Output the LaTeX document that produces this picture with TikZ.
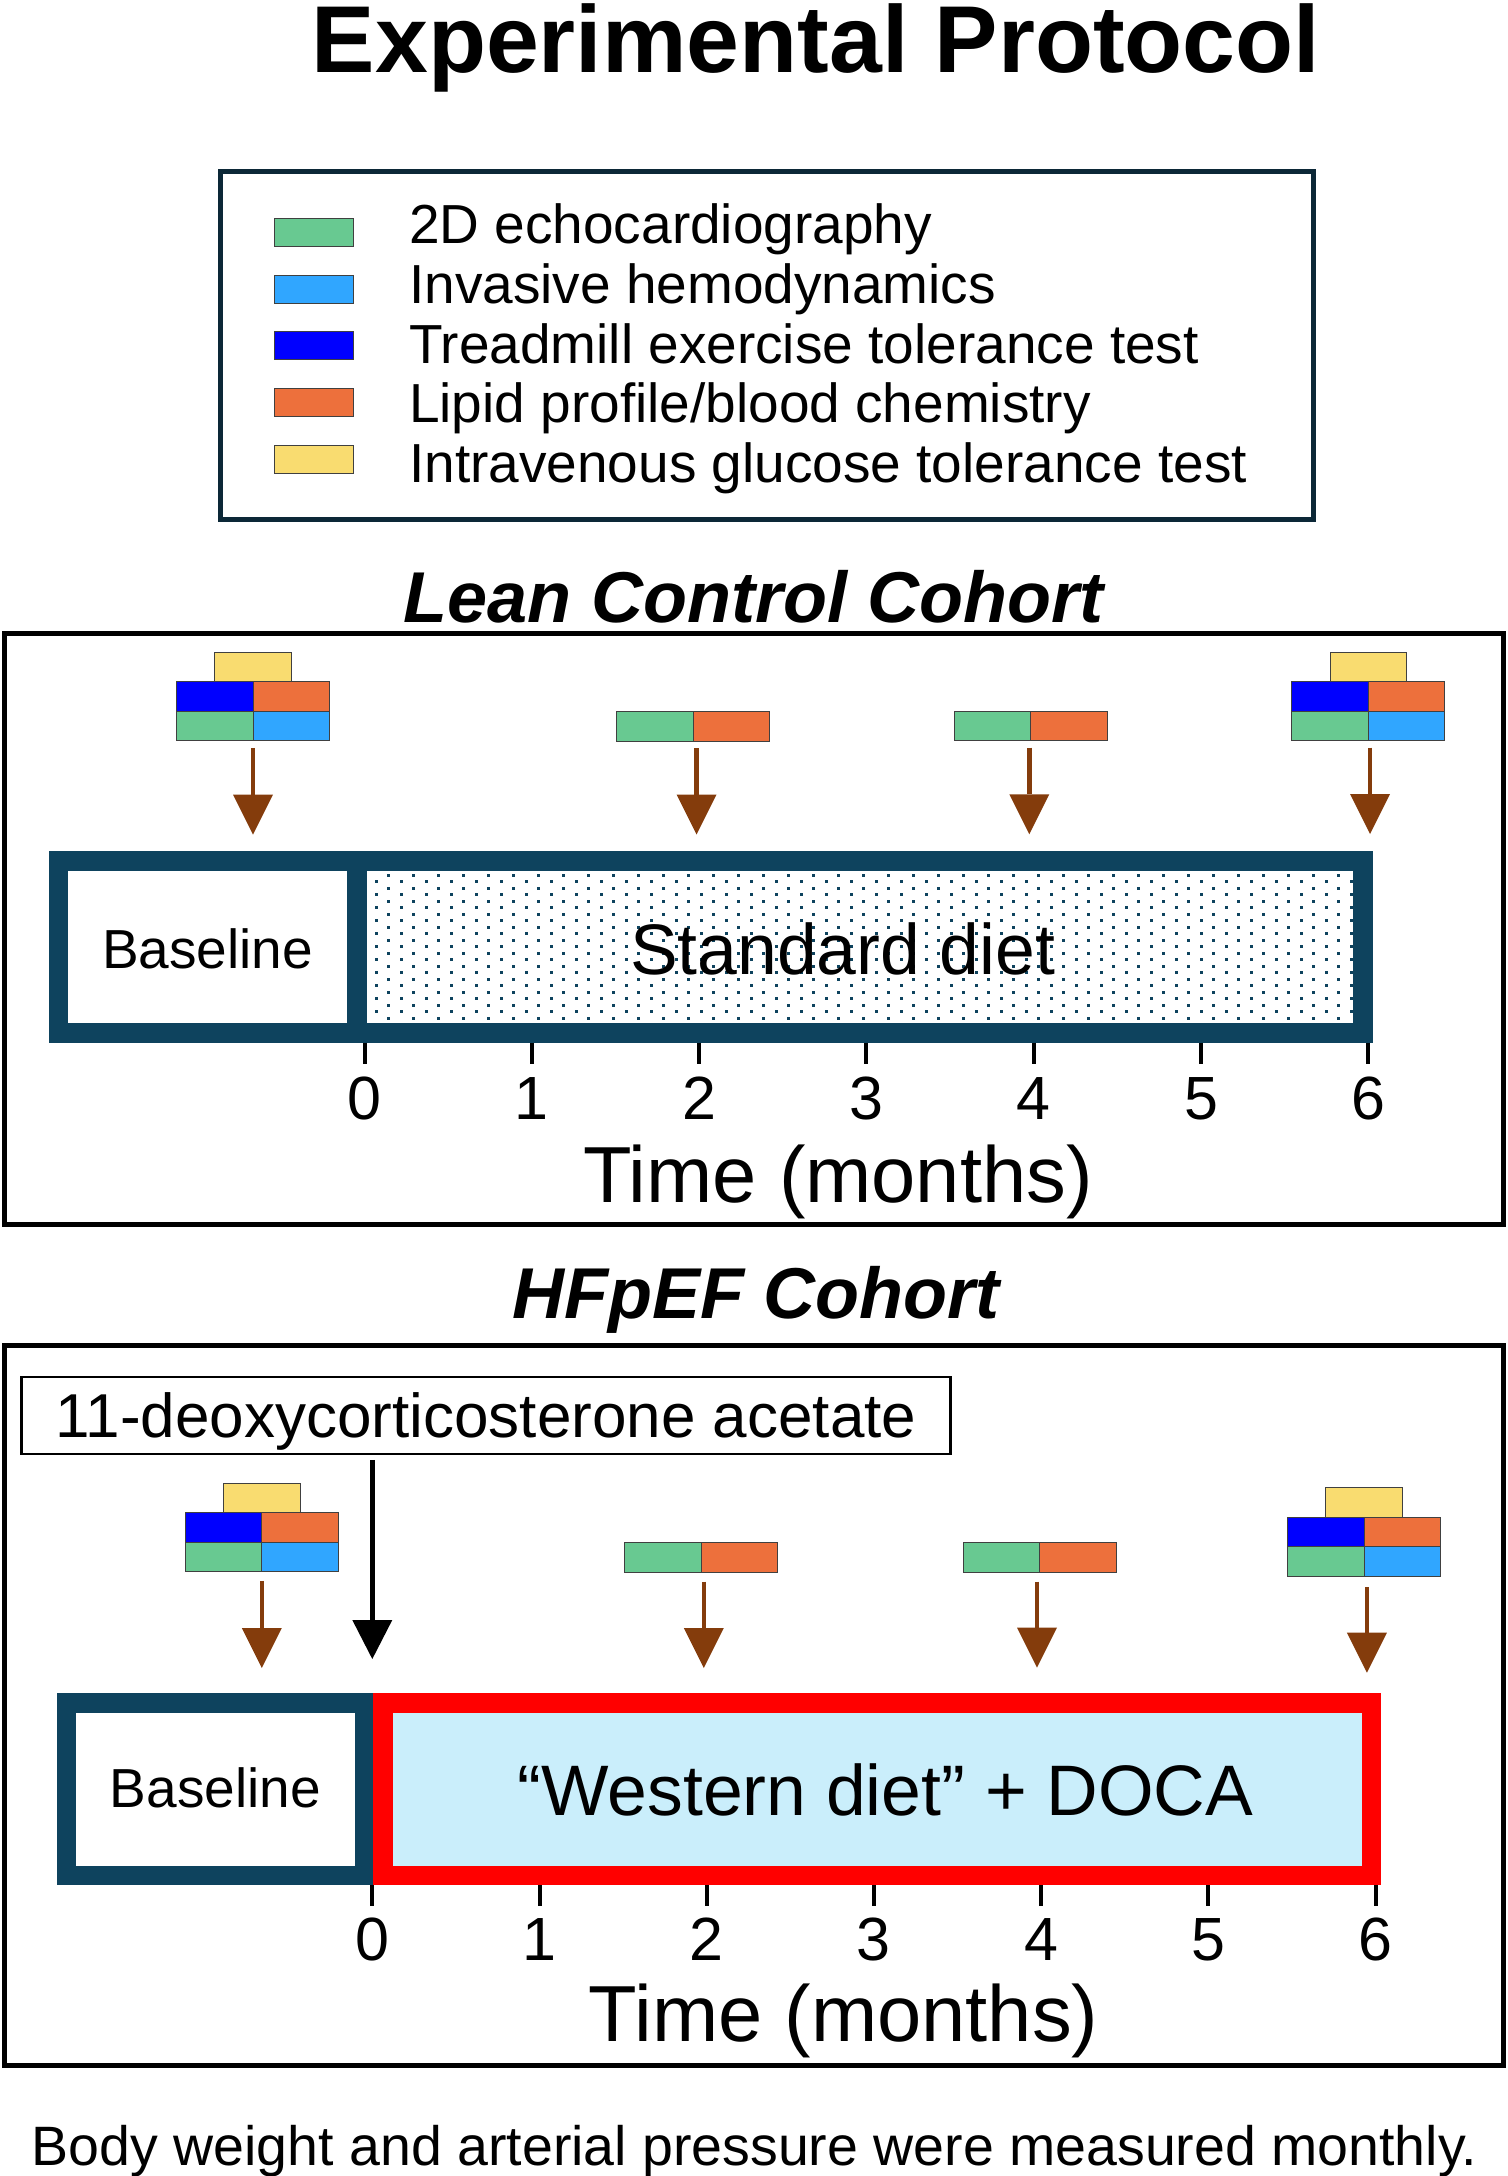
\documentclass[tikz,border=0pt]{standalone}
\usepackage{fontspec}
\setmainfont{Liberation Sans}
\usetikzlibrary{arrows.meta,positioning,patterns}

\definecolor{echoGreen}{HTML}{68C991}
\definecolor{hemoBlue}{HTML}{30A6FF}
\definecolor{treadBlue}{HTML}{0000FF}
\definecolor{lipidOrange}{HTML}{ED703C}
\definecolor{glucYellow}{HTML}{F9DC70}
\definecolor{frameTeal}{HTML}{0E435E}
\definecolor{legendNavy}{HTML}{0C2837}
\definecolor{doseBrown}{HTML}{843C0C}
\definecolor{dietBlue}{HTML}{CAEEFB}

\pgfdeclarepatternformonly{dietdots}{\pgfpointorigin}{\pgfpoint{25pt}{12.5pt}}{\pgfpoint{25pt}{12.5pt}}{%
  \pgfpathrectangle{\pgfpointorigin}{\pgfpoint{3pt}{3pt}}%
  \pgfpathrectangle{\pgfpoint{12.5pt}{6.25pt}}{\pgfpoint{3pt}{3pt}}%
  \pgfusepath{fill}}

\tikzset{
  swatch/.style={draw=black!75, line width=1pt, minimum width=76.5, minimum height=29.5, inner sep=0pt, outer sep=0pt},
  keybox/.style={swatch, minimum width=79, minimum height=28, anchor=north west},
  txt/.style={inner sep=0pt, anchor=base},
  keytext/.style={txt, anchor=base west, font=\fontsize{55}{60}\selectfont},
  cohort/.style={txt, font=\fontsize{72}{76}\selectfont\bfseries\itshape},
  phase/.style={txt, font=\fontsize{55}{60}\selectfont},
  diet/.style={txt, font=\fontsize{71.5}{76}\selectfont},
  ticklabel/.style={txt, font=\fontsize{61}{66}\selectfont},
  axislabel/.style={txt, font=\fontsize{79.5}{84}\selectfont},
  tickmark/.style={line width=4pt},
  dose/.style={draw=doseBrown, line width=4.5pt, -{Triangle[width=40pt,length=40pt,line width=0pt]}},
}

\begin{document}
\begin{tikzpicture}[x=1pt,y=-1pt]
  \useasboundingbox (0,0) rectangle (1507,2176);

  \node[txt, font=\fontsize{95}{100}\selectfont\bfseries] (title) at (816,72) {Experimental Protocol};

  % legend
  \draw[legendNavy, line width=4.5pt] (220.5,171.7) rectangle (1313.7,519.3);
  \foreach \col/\lab [count=\i from 0] in {echoGreen/2D echocardiography, hemoBlue/Invasive hemodynamics,
      treadBlue/Treadmill exercise tolerance test, lipidOrange/Lipid profile\slash blood chemistry,
      glucYellow/Intravenous glucose tolerance test} {
    \node[keybox, fill=\col] (key\i) at (274.8,218.3+56.8*\i) {};
    \node[keytext] (keytxt\i) at (409,243.3+59.85*\i) {\lab};
  }

  % lean cohort
  \node[cohort] (leanttl) at (753.5,622) {Lean Control Cohort};
  \draw[line width=5pt] (4.4,633) rectangle (1503,1224.5);
  \fill[frameTeal] (48.5,851) rectangle (1373.3,1042.5);
  \fill[white] (67.9,870.7) rectangle (346.6,1022.7);
  \fill[white] (367,870.7) rectangle (1353.3,1022.7);
  \fill[pattern=dietdots, pattern color=frameTeal] (367,870.7) rectangle (1353.3,1022.7);
  \node[phase] (lbase) at (207.7,968.6) {Baseline};
  \node[diet] (ldiet) at (842.7,974.3) {Standard diet};
  \foreach \t in {0,...,6} {
    \pgfmathsetmacro\tx{364.5+167.3*\t}
    \draw[tickmark] (\tx,1042.5) -- (\tx,1064);
    \node[ticklabel] (ltick\t) at (\tx,1119) {\t};
  }
  \node[axislabel] (ltime) at (838,1202) {Time (months)};

  % hfpef cohort
  \node[cohort] (hfttl) at (756,1318) {HFpEF Cohort};
  \draw[line width=5pt] (4.4,1345.3) rectangle (1503,2065.5);
  \node[draw, line width=2.5pt, minimum width=929, minimum height=77, inner sep=0pt,
    text height=44.6, text depth=0pt, font=\fontsize{62}{66}\selectfont] (doca) at (486.2,1415.4)
    {11-deoxycorticosterone acetate};
  \coordinate (docatip) at (372.3,1659);
  \draw[line width=4.5pt, -{Triangle[width=40pt,length=39pt,line width=0pt]}, shorten <=4.6]
    (docatip |- doca.south) -- (docatip);
  \fill[frameTeal] (56.7,1693) rectangle (373.2,1885);
  \fill[red] (373.2,1693) rectangle (1381.4,1885);
  \fill[white] (76.1,1713) rectangle (355.3,1866);
  \fill[dietBlue] (392.6,1713) rectangle (1362,1866);
  \node[phase] (hbase) at (215.3,1807.6) {Baseline};
  \node[diet] (hdiet) at (885.5,1815) {“Western diet” + DOCA};
  \foreach \t in {0,...,6} {
    \pgfmathsetmacro\tx{372.3+167.2*\t}
    \draw[tickmark] (\tx,1885) -- (\tx,1906);
    \node[ticklabel] (htick\t) at (\tx,1960) {\t};
  }
  \node[axislabel] (htime) at (843.7,2041.7) {Time (months)};

  % test sets
  \foreach \nm/\cx/\cy in {l0/253/740.8, l6/1368.3/740.7, h0/261.8/1571.9, h6/1364.2/1576} {
    \node[swatch, fill=echoGreen, anchor=south east] (\nm-echo) at (\cx,\cy) {};
    \node[swatch, fill=hemoBlue, right=0pt of \nm-echo] (\nm-hemo) {};
    \node[swatch, fill=treadBlue, above=0pt of \nm-echo] (\nm-tread) {};
    \node[swatch, fill=lipidOrange, above=0pt of \nm-hemo] (\nm-lipid) {};
    \node[swatch, fill=glucYellow, anchor=south] (\nm-gluc) at (\nm-tread.north east) {};
  }
  \foreach \nm/\cx/\cy in {l2/693/741, l4/1030.7/740.7, h2/701.4/1572, h4/1039.7/1572} {
    \node[swatch, fill=echoGreen, anchor=south east] (\nm-echo) at (\cx,\cy) {};
    \node[swatch, fill=lipidOrange, right=0pt of \nm-echo] (\nm-lipid) {};
  }
  \foreach \nm/\tx/\ty/\gap in {l0/253/834.7/7, l2/696.6/834.5/7, l4/1029.3/834.3/7, l6/1370/834/7,
      h0/261.8/1668/9, h2/703.8/1668/9.5, h4/1037/1667.7/9.5, h6/1366.9/1672.7/11} {
    \coordinate (\nm-tip) at (\tx,\ty);
    \draw[dose, shorten <=\gap] (\nm-tip |- \nm-echo.south) -- (\nm-tip);
  }

  \node[txt, anchor=base west, font=\fontsize{55.5}{60}\selectfont] (note) at (31.5,2165)
    {Body weight and arterial pressure were measured monthly.};
\end{tikzpicture}
\end{document}
